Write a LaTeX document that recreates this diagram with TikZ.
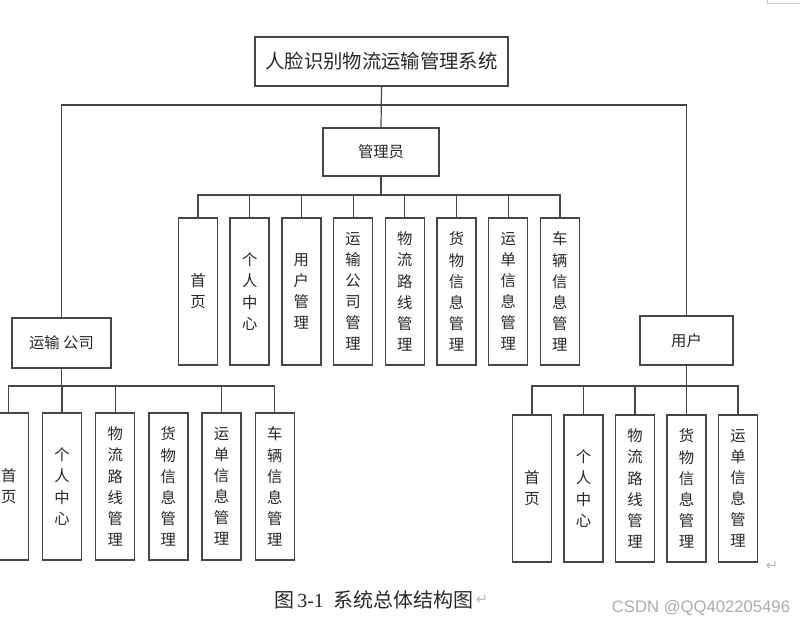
\documentclass[tikz,border=0pt]{standalone}
\usepackage{fontspec}
\setmainfont{Liberation Serif}
\newfontfamily\cjk{Noto Sans CJK SC}
\newfontfamily\wmfont{Liberation Sans}
\newfontfamily\symfont{DejaVu Sans}
\usetikzlibrary{positioning}
\definecolor{linegray}{RGB}{70,70,70}
\definecolor{textgray}{RGB}{40,40,40}
\tikzset{
  box/.style={draw=linegray, line width=1.1pt, fill=white, inner sep=0pt, text=textgray, font=\cjk},
  vbox/.style={box, minimum width=29.25pt, minimum height=110.25pt, align=center,
    font=\cjk\fontsize{11.5}{15.8}\selectfont},
  link/.style={draw=linegray, line width=0.9pt},
  retmark/.style={text=gray!55, font=\symfont\fontsize{11}{12}\selectfont, inner sep=0pt}
}

\begin{document}
\begin{tikzpicture}[x=0.75pt, y=-0.75pt]
\clip (0,0) rectangle (804,627);
% 顶层系统
\node[box, minimum width=189.75pt, minimum height=36.75pt,
  font=\cjk\fontsize{14.5}{17}\selectfont] (sys) at (381.5,61.5) {人脸识别物流运输管理系统};
% 三个角色
\node[box, minimum width=87pt, minimum height=36pt,
  font=\cjk\fontsize{11.5}{13}\selectfont] (admin) at (381,152) {管理员};
\node[box, minimum width=74.25pt, minimum height=37.5pt,
  font=\cjk\fontsize{11.5}{13}\selectfont] (co) at (61.5,343) {运输 公司};
\node[box, minimum width=69.75pt, minimum height=36.75pt,
  font=\cjk\fontsize{11.5}{13}\selectfont] (user) at (686.5,340.5) {用户};
\coordinate (topbus) at (381.5,105);
\draw[link] (sys.south) -- (admin.north);
\draw[link] (co.north) |- (topbus) -| (user.north);

% 管理员功能
\foreach \t [count=\i] in {{首\\页}, {个\\人\\中\\心}, {用\\户\\管\\理}, {运\\输\\公\\司\\管\\理},
    {物\\流\\路\\线\\管\\理}, {货\\物\\信\\息\\管\\理}, {运\\单\\信\\息\\管\\理}, {车\\辆\\信\\息\\管\\理}}
  \node[vbox] (a\i) at ({198+51.7*(\i-1)},291.5) {\t};
\coordinate (abus) at (381,195);
\draw[link] (admin.south) -- (abus);
\foreach \i in {1,...,8}
  \draw[link] (a\i.north) |- (abus);

% 运输公司功能
\foreach \t [count=\i] in {{首\\页}, {个\\人\\中\\心}, {物\\流\\路\\线\\管\\理},
    {货\\物\\信\\息\\管\\理}, {运\\单\\信\\息\\管\\理}, {车\\辆\\信\\息\\管\\理}}
  \node[vbox] (c\i) at ({8.8+53.2*(\i-1)},486.5) {\t};
\coordinate (cbus) at (61.5,386);
\draw[link, line width=1.3pt] (co.south) -- (cbus);
\foreach \i in {1,2,3,5,6}
  \draw[link] (c\i.north) |- (cbus);

% 用户功能
\foreach \t [count=\i] in {{首\\页}, {个\\人\\中\\心}, {物\\流\\路\\线\\管\\理},
    {货\\物\\信\\息\\管\\理}, {运\\单\\信\\息\\管\\理}}
  \node[vbox] (u\i) at ({532+51.5*(\i-1)},488.5) {\t};
\coordinate (ubus) at (686.5,386);
\draw[link, line width=1.3pt] (user.south) -- (ubus);
\foreach \i in {1,...,5}
  \draw[link] (u\i.north) |- (ubus);

% 图题与杂项
\node[text=textgray, font=\fontsize{15}{17}\selectfont, inner sep=0pt] (cap) at (374,600)
  {{\cjk 图}\,3-1\enspace{\cjk 系统总体结构图}};
\node[retmark, right=1pt of cap] (ret2) {↵};
\node[retmark] (ret1) at (772,566) {↵};
\node[text=gray!65, font=\wmfont\fontsize{12.5}{14}\selectfont, inner sep=0pt] (wm) at (701,608)
  {CSDN @QQ402205496};
\draw[gray!45, line width=0.5pt] (767,0) -- (767,3) -- (800,3);
\end{tikzpicture}
\end{document}
